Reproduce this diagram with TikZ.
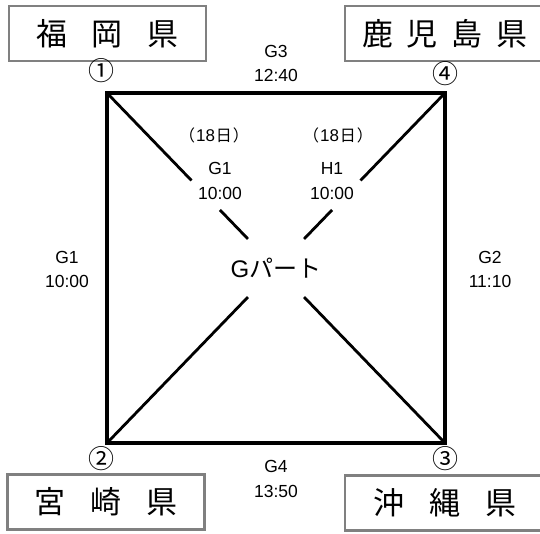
\documentclass[tikz,border=0pt]{standalone}
\usepackage{fontspec}
\setmainfont{Liberation Sans}
\newfontfamily\jp{Noto Sans CJK JP}
\usetikzlibrary{calc}
\begin{document}
\begin{tikzpicture}[x=1pt, y=-1pt, line join=miter,
  pref/.style={draw=black!50, line width=2.6pt, minimum width=197pt, minimum height=55pt, inner sep=0pt, font=\jp\fontsize{31}{31}\selectfont},
  lbl/.style={align=center, inner sep=0pt, font=\fontsize{17.5}{24.5}\selectfont},
  day/.style={inner sep=0pt, font=\jp\fontsize{16}{16}\selectfont},
  num/.style={inner sep=0pt, font=\jp\fontsize{26}{26}\selectfont},
  edge/.style={line width=3.2pt},
  diag/.style={line width=2.8pt}]
\clip (0,0) rectangle (540,533);
% Ecken
\coordinate (c1) at (107,93);
\coordinate (c4) at (445,93);
\coordinate (c3) at (445,443);
\coordinate (c2) at (107,443);
% Diagonalen
\foreach \s/\e in {0/.25, .334/.417, .583/1} {
  \draw[diag] ($(c1)!\s!(c3)$) -- ($(c1)!\e!(c3)$);
  \draw[diag] ($(c4)!\s!(c2)$) -- ($(c4)!\e!(c2)$);
}
\draw[edge] (c1) -- (c4) -- (c3) -- (c2) -- cycle;
% Kästen
\node[pref] (fukuoka) at (107.5,33.5) {福\hspace{25pt}岡\hspace{25pt}県};
\node[pref, minimum width=200pt] (kagoshima) at (445,33.5) {鹿\hspace{14pt}児\hspace{14pt}島\hspace{14pt}県};
\node[pref] (miyazaki) at (106,502) {宮\hspace{25pt}崎\hspace{25pt}県};
\node[pref, minimum width=200pt] (okinawa) at (445,503) {沖\hspace{25pt}縄\hspace{25pt}県};
% Nummern
\node[num] (n1) at (101,71) {①};
\node[num] (n4) at (445,74) {④};
\node[num] (n2) at (101,459) {②};
\node[num] (n3) at (445,459) {③};
% Spiele
\node[lbl] (g3) at (276,63.5) {G3\\12:40};
\node[lbl] (g1l) at (67,269.5) {G1\\10:00};
\node[lbl] (g2) at (490,269.5) {G2\\11:10};
\node[lbl] (g4) at (276,479) {G4\\13:50};
\node[day] (d1) at (214,135) {（\hspace{1pt}{\rmfamily\fontsize{17}{17}\selectfont 18}\hspace{1pt}日\hspace{1pt}）};
\node[day] (d2) at (338,135) {（\hspace{1pt}{\rmfamily\fontsize{17}{17}\selectfont 18}\hspace{1pt}日\hspace{1pt}）};
\node[lbl] (g1) at (220,181) {G1\\10:00};
\node[lbl] (h1) at (332,181) {H1\\10:00};
\node[font=\fontsize{24}{24}\selectfont, inner sep=0pt] (gp) at ($(c1)!.5!(c3)$) {G{\jp パート}};
\end{tikzpicture}
\end{document}
